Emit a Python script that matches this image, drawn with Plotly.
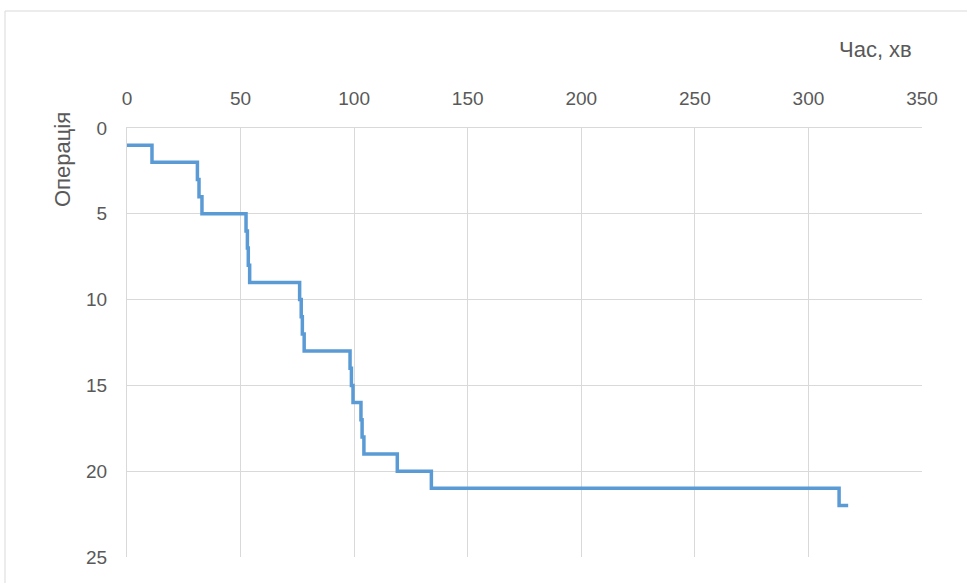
import plotly.graph_objects as go

# Start time (min) of each operation and the operation number
start_times = [0, 11, 31, 31.7, 33, 52.4, 53, 53.4, 54, 76, 76.7, 77.2, 78,
               98.2, 98.8, 99.5, 103, 103.5, 104.3, 119, 134, 313.5, 317.5]
operations = [1, 2, 3, 4, 5, 6, 7, 8, 9, 10, 11, 12, 13,
              14, 15, 16, 17, 18, 19, 20, 21, 22, 22]

x_ticks = [0, 50, 100, 150, 200, 250, 300, 350]
y_ticks = [0, 5, 10, 15, 20, 25]

FONT = "Liberation Sans, Arial"
GRID = "#d9d9d9"
TEXT = "#595959"

fig = go.Figure()
fig.add_trace(go.Scatter(
    x=start_times, y=operations, mode="lines", line_shape="hv",
    line=dict(color="#5b9bd5", width=3.5), showlegend=False,
    hoverinfo="x+y",
))

fig.update_layout(
    width=967, height=583,
    margin=dict(l=127, r=45, t=128, b=26),
    paper_bgcolor="white", plot_bgcolor="white",
    font=dict(family=FONT, size=19, color=TEXT),
    xaxis=dict(
        side="top", range=[0, 350], tickvals=x_ticks,
        showgrid=True, gridcolor=GRID, gridwidth=1,
        zeroline=False, showline=True, linecolor=GRID, mirror=False,
        ticks="", ticklabelstandoff=14,
        tickfont=dict(family=FONT, size=19, color=TEXT),
    ),
    yaxis=dict(
        range=[25, 0], tickvals=y_ticks,
        showgrid=True, gridcolor=GRID, gridwidth=1,
        zeroline=False, showline=True, linecolor=GRID,
        ticks="", ticklabelstandoff=15,
        tickfont=dict(family=FONT, size=19, color=TEXT),
    ),
    shapes=[dict(type="rect", xref="paper", yref="paper",
                 x0=-122 / 795, x1=1.2, y0=-0.2, y1=(583 - 11 - 26) / 429,
                 line=dict(color=GRID, width=1), layer="below")],
    annotations=[
        dict(text="Час, хв", xref="paper", yref="paper",
             x=(875 - 127) / 795, y=(583 - 50 - 26) / 429,
             showarrow=False, xanchor="center", yanchor="middle",
             font=dict(family=FONT, size=22, color=TEXT)),
        dict(text="Операція", xref="paper", yref="paper",
             x=(62 - 127) / 795, y=(583 - 160 - 26) / 429,
             showarrow=False, textangle=-90, xanchor="center", yanchor="middle",
             font=dict(family=FONT, size=22, color=TEXT)),
    ],
)

fig.write_html("out.html")
